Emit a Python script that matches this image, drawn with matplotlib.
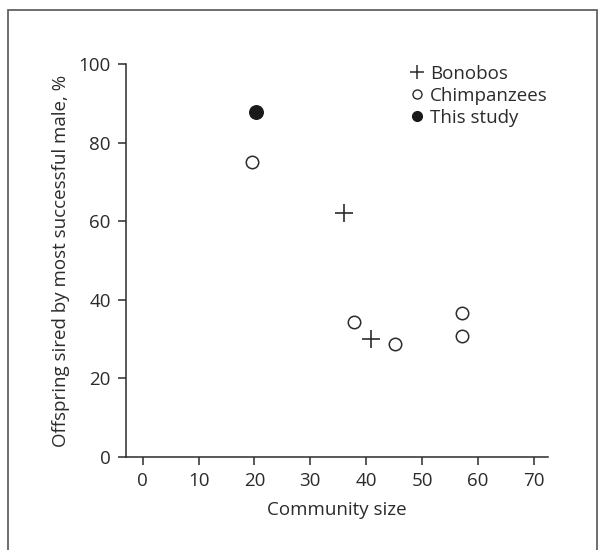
import matplotlib.pyplot as plt
from matplotlib.patches import Rectangle
from matplotlib.lines import Line2D

# values
bonobo_x = [36.0, 40.9]
bonobo_y = [62.1, 30.1]
chimp_x = [19.6, 37.9, 45.1, 57.1, 57.1]
chimp_y = [75.1, 34.3, 28.6, 36.6, 30.8]
study_x = [20.2]
study_y = [87.9]
x_ticks = [0, 10, 20, 30, 40, 50, 60, 70]
y_ticks = [0, 20, 40, 60, 80, 100]

INK = '#2b2b2b'
FS = 13.5
plt.rcParams['font.family'] = ['Open Sans', 'DejaVu Sans']
plt.rcParams['text.color'] = INK
plt.rcParams['axes.labelcolor'] = INK
plt.rcParams['xtick.color'] = INK
plt.rcParams['ytick.color'] = INK

fig = plt.figure(figsize=(6, 5.5), dpi=100)
ax = fig.add_axes([0.21, 0.1696, 0.703, 0.7137])

# outer frame, open at the bottom edge
fig.patches.append(Rectangle((8 / 600, -0.05), 589 / 600, 1 - 9.5 / 550 + 0.05,
                             transform=fig.transFigure, fill=False,
                             edgecolor='#555555', linewidth=1.2))

ax.scatter(bonobo_x, bonobo_y, marker='+', s=150, c=INK, linewidths=1.2)
ax.scatter(chimp_x, chimp_y, marker='o', s=80, facecolors='white', edgecolors=INK,
           linewidths=1.1)
ax.scatter(study_x, study_y, marker='o', s=95, c='#1a1a1a')

ax.set_xlim(-3, 72.5)
ax.set_ylim(0, 100)
ax.set_xticks(x_ticks)
ax.set_yticks(y_ticks)
for s in ['top', 'right']:
    ax.spines[s].set_visible(False)
for s in ['left', 'bottom']:
    ax.spines[s].set_color(INK)
    ax.spines[s].set_linewidth(1.1)
ax.tick_params(direction='out', length=6, width=1.1, labelsize=FS, pad=5)

ax.set_xlabel('Community size', fontsize=FS, labelpad=8)
ax.set_ylabel('Offspring sired by most successful male, %', fontsize=FS, labelpad=6)

handles = [
    Line2D([], [], ls='none', marker='+', ms=10, mew=1.1, color=INK),
    Line2D([], [], ls='none', marker='o', ms=6.5, mew=1.0, mfc='white', mec=INK),
    Line2D([], [], ls='none', marker='o', ms=7, color='#1a1a1a'),
]
ax.legend(handles, ['Bonobos', 'Chimpanzees', 'This study'], loc='upper left',
          bbox_to_anchor=(0.65, 1.018), frameon=False, fontsize=FS,
          handletextpad=0.2, labelspacing=0.22, borderaxespad=0, handlelength=1.0)

fig.savefig('out.png', dpi=100)
